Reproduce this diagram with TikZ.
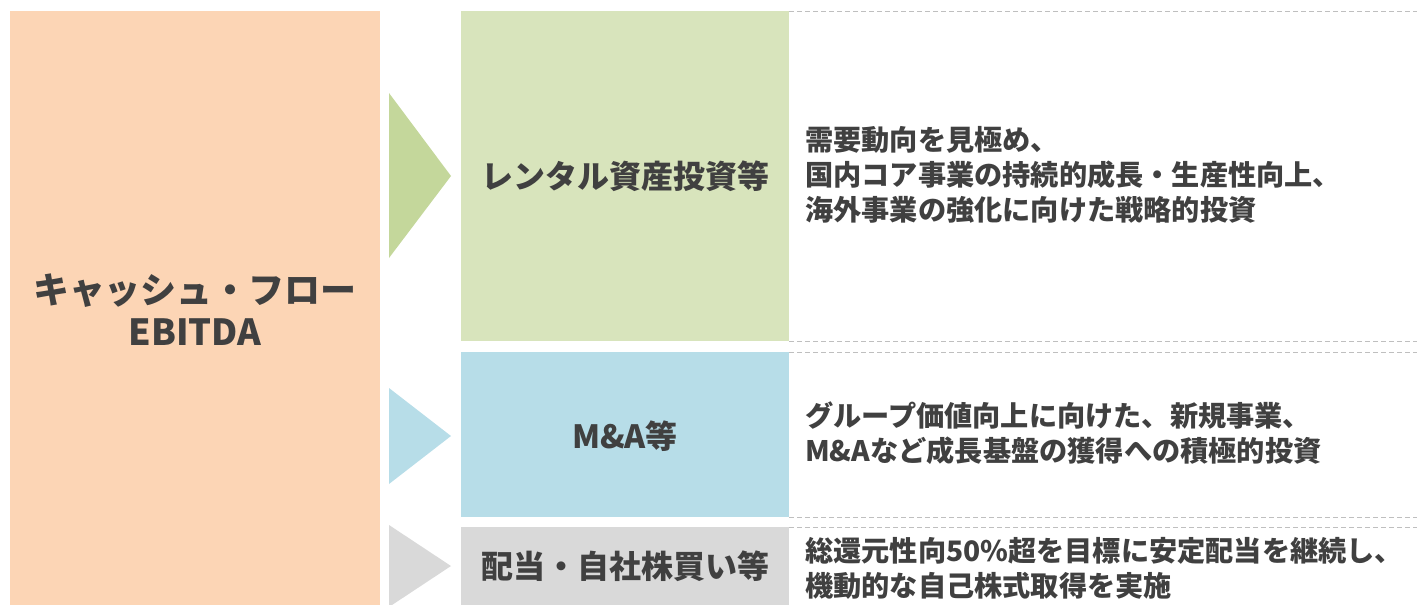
\documentclass[tikz,border=0pt]{standalone}
\usepackage{fontspec}
\setmainfont{Noto Sans CJK JP}
\definecolor{peach}{HTML}{FCD5B5}
\definecolor{lgreen}{HTML}{D8E4BC}
\definecolor{dgreen}{HTML}{C4D79B}
\definecolor{lblue}{HTML}{B7DDE8}
\definecolor{lgray}{HTML}{D9D9D9}
\definecolor{txt}{HTML}{404040}
\definecolor{dashc}{HTML}{BFBFBF}
\tikzset{
  box/.style={inner sep=0pt, outer sep=0pt},
  title/.style={text=txt, font=\bfseries\fontsize{32}{38}\selectfont, align=center},
  desc/.style={text=txt, font=\bfseries\fontsize{28.2}{35}\selectfont, align=left, anchor=west, inner sep=0pt},
  sep/.style={dashc, line width=1pt, dash pattern=on 5pt off 3pt},
}
\begin{document}
\begin{tikzpicture}[x=1pt,y=-1pt]
\useasboundingbox (0,0) rectangle (1417,605);
\clip (0,0) rectangle (1417,605);
% left box
\fill[peach] (10,11) rectangle (380,606);
\node[text=txt, font=\bfseries\fontsize{36}{42}\selectfont, align=center] (cf) at (195,310) {キャッシュ・フロー\\EBITDA};
% arrows
\fill[dgreen] (389,93) -- (451,176) -- (389,258) -- cycle;
\fill[lblue] (389,388) -- (451,436) -- (389,484) -- cycle;
\fill[lgray] (389,525) -- (451,566) -- (389,607) -- cycle;
% middle boxes
\fill[lgreen] (461,11) rectangle (789,341);
\fill[lblue] (461,352) rectangle (789,517);
\fill[lgray] (461,527) rectangle (789,606);
\node[title] (rental) at (625,176) {レンタル資産投資等};
\node[title] (ma) at (625,436) {M\&A等};
\node[title] (div) at (625,566) {配当・自社株買い等};
% dashed separators
\draw[sep] (789,11) -- (1417,11);
\draw[sep] (789,341) -- (1417,341);
\draw[sep] (789,352) -- (1417,352);
\draw[sep] (789,517) -- (1417,517);
\draw[sep] (789,527) -- (1417,527);
% descriptions
\node[desc] (d1) at (805,175) {需要動向を見極め、\\国内コア事業の持続的成長・生産性向上、\\海外事業の強化に向けた戦略的投資};
\node[desc] (d2) at (805,433) {グループ価値向上に向けた、新規事業、\\M\&Aなど成長基盤の獲得への積極的投資};
\node[desc] (d3) at (805,568) {総還元性向50\%超を目標に安定配当を継続し、\\機動的な自己株式取得を実施};
\end{tikzpicture}
\end{document}
